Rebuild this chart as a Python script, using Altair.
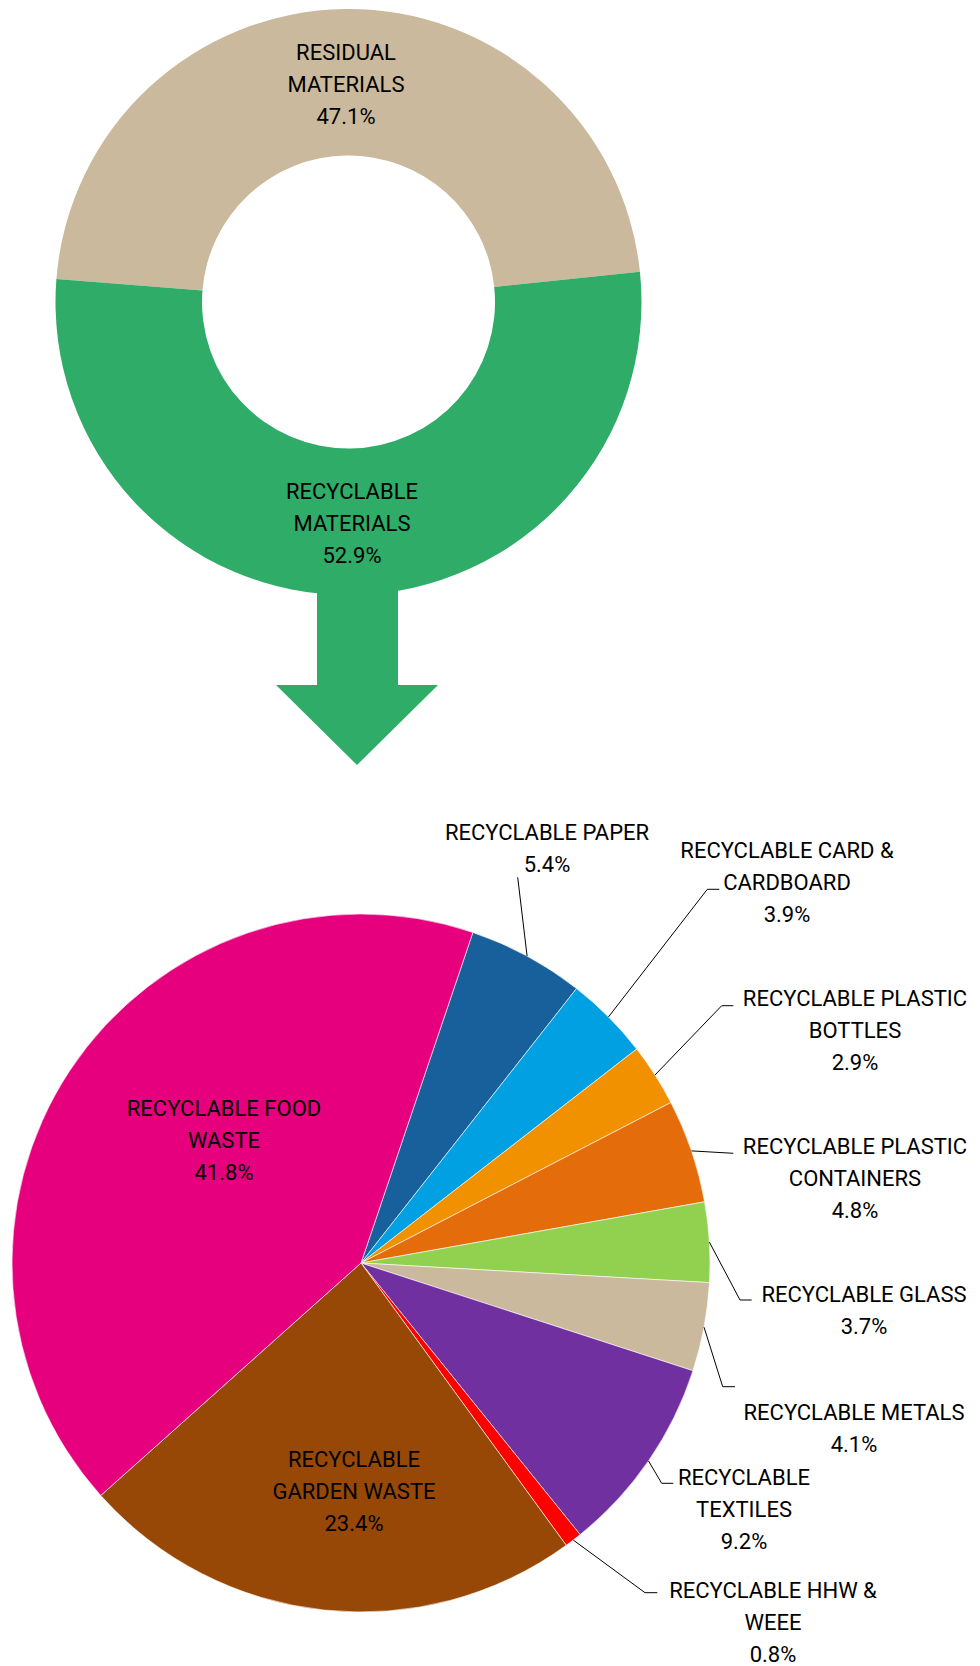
import math
import altair as alt
import pandas as pd

# ---------------- data ----------------
donut_names = ["RESIDUAL MATERIALS", "RECYCLABLE MATERIALS"]
donut_lines = [["RESIDUAL", "MATERIALS"], ["RECYCLABLE", "MATERIALS"]]
donut_pct = [47.1, 52.9]

pie_names = [
    "RECYCLABLE PAPER", "RECYCLABLE CARD & CARDBOARD", "RECYCLABLE PLASTIC BOTTLES",
    "RECYCLABLE PLASTIC CONTAINERS", "RECYCLABLE GLASS", "RECYCLABLE METALS",
    "RECYCLABLE TEXTILES", "RECYCLABLE HHW & WEEE", "RECYCLABLE GARDEN WASTE",
    "RECYCLABLE FOOD WASTE",
]
pie_lines = [
    ["RECYCLABLE PAPER"], ["RECYCLABLE CARD &", "CARDBOARD"], ["RECYCLABLE PLASTIC", "BOTTLES"],
    ["RECYCLABLE PLASTIC", "CONTAINERS"], ["RECYCLABLE GLASS"], ["RECYCLABLE METALS"],
    ["RECYCLABLE", "TEXTILES"], ["RECYCLABLE HHW &", "WEEE"], ["RECYCLABLE", "GARDEN WASTE"],
    ["RECYCLABLE FOOD", "WASTE"],
]
pie_pct = [5.4, 3.9, 2.9, 4.8, 3.7, 4.1, 9.2, 0.8, 23.4, 41.8]

# ---------------- styles ----------------
donut_colors = ["#CAB99C", "#2EAC68"]
pie_colors = ["#17609B", "#00A0E3", "#F29100", "#E46C0A", "#92D050",
              "#CAB99C", "#7030A0", "#FF0000", "#984806", "#E6007E"]
GREEN = "#2EAC68"
FONT = "Roboto"
FS = 22
LH = 32

# ---------------- layout ----------------
W, H = 980, 1666
DCX, DCY, DR, DRI = 348.5, 302, 293, 146.5
PCX, PCY, PR = 361, 1263, 349
DONUT_START = -1.492
PIE_START = 0.3264

# centres of the text blocks
donut_label_pos = [(346, 84), (352, 523)]
pie_label_pos = [(547, 848), (787, 882), (855, 1030), (855, 1178), (864, 1310),
                 (854, 1428), (744, 1509), (773, 1622), (354, 1491), (224, 1140)]
# label-side leader points (None = label inside slice)
leader_pts = [
    [(517.7, 877.3)],
    [(719.3, 889.3), (707.3, 889.3)],
    [(733.3, 1005.7), (721.7, 1005.7)],
    [(733.3, 1153.3)],
    [(751.7, 1300), (740, 1300)],
    [(735, 1386.7), (722.7, 1386.7)],
    [(673.3, 1483.3), (661.7, 1483.3)],
    [(657.3, 1592.7), (645, 1592.7)],
    None,
    None,
]

# ---------------- tables ----------------
donut_df = pd.DataFrame({"name": donut_names, "pct": donut_pct, "idx": range(len(donut_names))})
pie_df = pd.DataFrame({"name": pie_names, "pct": pie_pct, "idx": range(len(pie_names))})


def block(lines, p, pos):
    all_lines = lines + [f"{p:.1f}%"]
    n = len(all_lines)
    cx, cy = pos
    return {"text": "\n".join(all_lines), "x": cx, "y": cy - (n - 1) * LH / 2 + 1}


label_rows = [block(l, p, pos) for l, p, pos in zip(donut_lines, donut_pct, donut_label_pos)]
label_rows += [block(l, p, pos) for l, p, pos in zip(pie_lines, pie_pct, pie_label_pos)]
labels_df = pd.DataFrame(label_rows)

total = sum(pie_pct)
lead_rows = []
cum = 0.0
for name, p, pts in zip(pie_names, pie_pct, leader_pts):
    mid = PIE_START + 2 * math.pi * (cum + p / 2) / total
    cum += p
    if pts is None:
        continue
    sx = PCX + PR * math.sin(mid)
    sy = PCY - PR * math.cos(mid)
    seq = 0
    for (px, py) in pts:
        lead_rows.append({"name": name, "seq": seq, "x": px, "y": py})
        seq += 1
    lead_rows.append({"name": name, "seq": seq, "x": sx, "y": sy})
lead_df = pd.DataFrame(lead_rows)

xs = alt.Scale(domain=[0, W], nice=False, zero=False)
ys = alt.Scale(domain=[0, H], nice=False, zero=False, reverse=True)

one = pd.DataFrame({"k": [0]})

arrow_rect = alt.Chart(one).mark_rect(color=GREEN).encode(
    x=alt.value(317), x2=alt.value(398), y=alt.value(560), y2=alt.value(686)
)
arrow_head = alt.Chart(one).mark_point(
    shape="M-1,0L1,0L0,0.988Z", filled=True, size=162 ** 2, color=GREEN,
    opacity=1, strokeOpacity=0
).encode(x=alt.value(357), y=alt.value(685))

donut = alt.Chart(donut_df).mark_arc(outerRadius=DR, innerRadius=DRI).encode(
    theta=alt.Theta("pct:Q", stack=True,
                    scale=alt.Scale(domain=[0, 100], range=[DONUT_START, DONUT_START + 2 * math.pi])),
    color=alt.Color("name:N", scale=alt.Scale(domain=donut_names, range=donut_colors), legend=None),
    order=alt.Order("idx:Q"),
    x=alt.value(DCX), y=alt.value(DCY),
)

pie = alt.Chart(pie_df).mark_arc(outerRadius=PR, stroke="white", strokeWidth=0.6).encode(
    theta=alt.Theta("pct:Q", stack=True,
                    scale=alt.Scale(domain=[0, 100], range=[PIE_START, PIE_START + 2 * math.pi])),
    color=alt.Color("name:N", scale=alt.Scale(domain=pie_names, range=pie_colors), legend=None),
    order=alt.Order("idx:Q"),
    x=alt.value(PCX), y=alt.value(PCY),
)

leaders = alt.Chart(lead_df).mark_line(color="#000000", strokeWidth=1).encode(
    x=alt.X("x:Q", scale=xs, axis=None),
    y=alt.Y("y:Q", scale=ys, axis=None),
    detail="name:N",
    order="seq:Q",
)

labels = alt.Chart(labels_df).mark_text(
    font=FONT, fontSize=FS, lineBreak="\n", lineHeight=LH,
    align="center", baseline="middle", color="#000000"
).encode(
    x=alt.X("x:Q", scale=xs, axis=None),
    y=alt.Y("y:Q", scale=ys, axis=None),
    text="text:N",
)

chart = alt.layer(arrow_rect, arrow_head, donut, pie, leaders, labels).resolve_scale(
    theta="independent", color="independent"
).properties(
    width=W, height=H, padding=0, autosize=alt.AutoSizeParams(type="none"),
    background="white"
).configure_view(stroke=None)

chart.save("out.html", embed_options={"renderer": "svg", "actions": False})
